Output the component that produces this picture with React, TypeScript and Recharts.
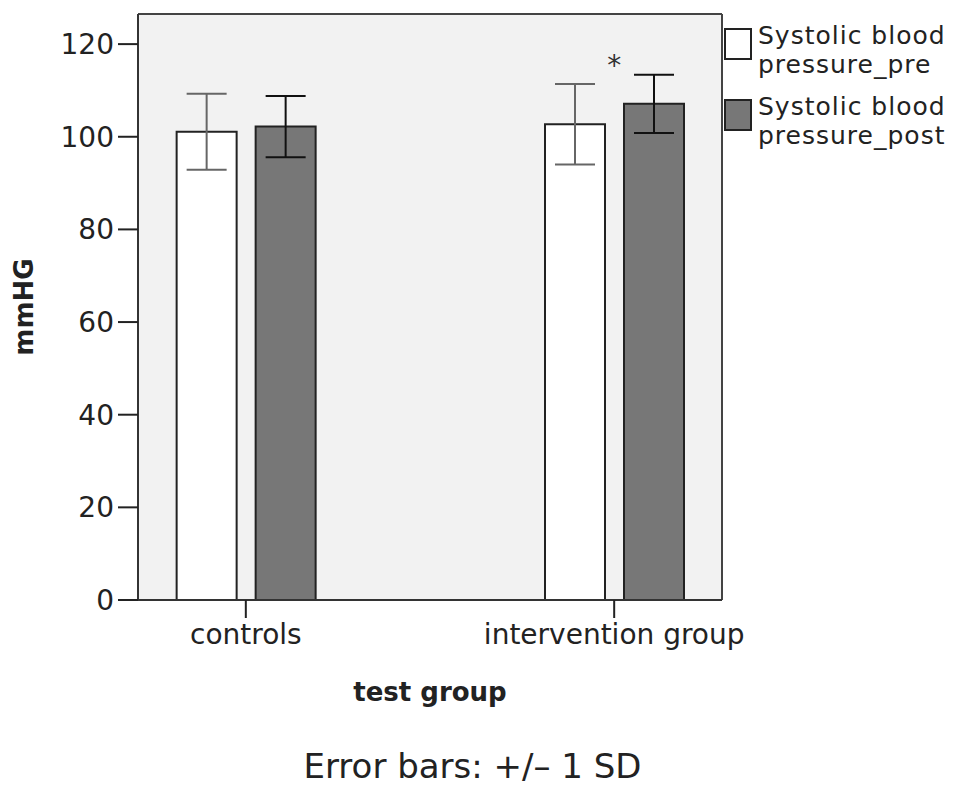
import { BarChart, Bar, XAxis, YAxis, CartesianGrid, ErrorBar, Legend, ReferenceDot } from 'recharts';

const groups = ['controls', 'intervention group'];
const preMean = [101.1, 102.7];
const preSd = [8.2, 8.7];
const postMean = [102.2, 107.1];
const postSd = [6.6, 6.3];
const yTicks = [0, 20, 40, 60, 80, 100, 120];
const significance = { group: 1, value: 115.4, mark: '*' };

const series = [
  { key: 'pre', sdKey: 'preSd', name: 'Systolic blood pressure_pre', fill: '#ffffff', errColor: '#666666' },
  { key: 'post', sdKey: 'postSd', name: 'Systolic blood pressure_post', fill: '#777777', errColor: '#111111' },
];

const data = groups.map((g, i) => ({
  x: i,
  name: g,
  pre: preMean[i],
  preSd: preSd[i],
  post: postMean[i],
  postSd: postSd[i],
}));

const FONT = '"DejaVu Sans", Verdana, sans-serif';

function LegendBox() {
  return (
    <div style={{ fontFamily: FONT }}>
      {series.map((s) => {
        const words = s.name.split(' ');
        return (
          <div key={s.key} style={{ display: 'flex', alignItems: 'flex-start', marginBottom: 13 }}>
            <div
              style={{
                width: 24,
                height: 28,
                marginTop: 7,
                border: '2px solid #222',
                background: s.fill,
                flexShrink: 0,
              }}
            />
            <div
              style={{
                marginLeft: 6,
                fontSize: 25,
                letterSpacing: 1,
                lineHeight: '29px',
                color: '#222',
                textAlign: 'left',
              }}
            >
              <div>{words.slice(0, 2).join(' ')}</div>
              <div>{words.slice(2).join(' ')}</div>
            </div>
          </div>
        );
      })}
    </div>
  );
}

function YLabel(props: any) {
  const vb = props.viewBox || {};
  const cx = 33;
  const cy = vb.y + vb.height / 2;
  return (
    <text
      x={cx}
      y={cy}
      transform={`rotate(-90, ${cx}, ${cy})`}
      textAnchor="middle"
      fontFamily={FONT}
      fontSize={26}
      fontWeight="bold"
      fill="#222"
    >
      mmHG
    </text>
  );
}

export default function App() {
  return (
    <div style={{ position: 'absolute', left: 0, top: 0, width: 964, height: 785, background: '#fff' }}>
      <BarChart
        width={964}
        height={785}
        data={data}
        margin={{ top: 14, right: 242, left: 0, bottom: 125 }}
        barSize={60}
        barGap={19}
      >
        <CartesianGrid
          fill="#f2f2f2"
          stroke="#444"
          strokeWidth={2}
          horizontalCoordinatesGenerator={({ offset }: any) => [offset.top, offset.top + offset.height]}
          verticalCoordinatesGenerator={({ offset }: any) => [offset.left, offset.left + offset.width]}
        />
        <XAxis
          type="number"
          dataKey="x"
          domain={[-0.2927, 1.2927]}
          ticks={[0, 1]}
          allowDataOverflow
          tickFormatter={(v: number) => groups[v] ?? ''}
          height={60}
          tickSize={18}
          tickMargin={6}
          axisLine={{ stroke: '#333', strokeWidth: 2 }}
          tickLine={{ stroke: '#222', strokeWidth: 2 }}
          tick={{ fontFamily: FONT, fontSize: 28, fill: '#222' }}
          label={{
            value: 'test group',
            position: 'bottom',
            offset: 23,
            style: { fontFamily: FONT, fontSize: 26, fontWeight: 'bold', fill: '#222' },
          }}
        />
        <YAxis
          domain={[0, 126.5]}
          ticks={yTicks}
          width={138}
          tickSize={20}
          tickMargin={4}
          allowDataOverflow
          axisLine={{ stroke: '#333', strokeWidth: 2 }}
          tickLine={{ stroke: '#222', strokeWidth: 2 }}
          tick={{ fontFamily: FONT, fontSize: 28, fill: '#222' }}
          label={<YLabel />}
        />
        <Legend
          layout="horizontal"
          align="center"
          verticalAlign="middle"
          content={<LegendBox />}
          wrapperStyle={{ left: 724, top: 21, width: 240, height: 'auto' }}
        />
        {series.map((s) => (
          <Bar
            key={s.key}
            dataKey={s.key}
            name={s.name}
            fill={s.fill}
            stroke="#222"
            strokeWidth={2}
            isAnimationActive={false}
          >
            <ErrorBar dataKey={s.sdKey} width={20} strokeWidth={2} stroke={s.errColor} direction="y" />
          </Bar>
        ))}
        <ReferenceDot
          x={significance.group}
          y={significance.value}
          r={1}
          fill="none"
          stroke="none"
          label={{
            value: significance.mark,
            position: 'center',
            style: { fontFamily: FONT, fontSize: 28, fill: '#333' },
          }}
        />
      </BarChart>
      <div
        style={{
          position: 'absolute',
          left: 0,
          top: 750,
          width: 945,
          textAlign: 'center',
          fontFamily: FONT,
          fontSize: 34,
          lineHeight: '32px',
          color: '#222',
        }}
      >
        Error bars: +/– 1 SD
      </div>
    </div>
  );
}
